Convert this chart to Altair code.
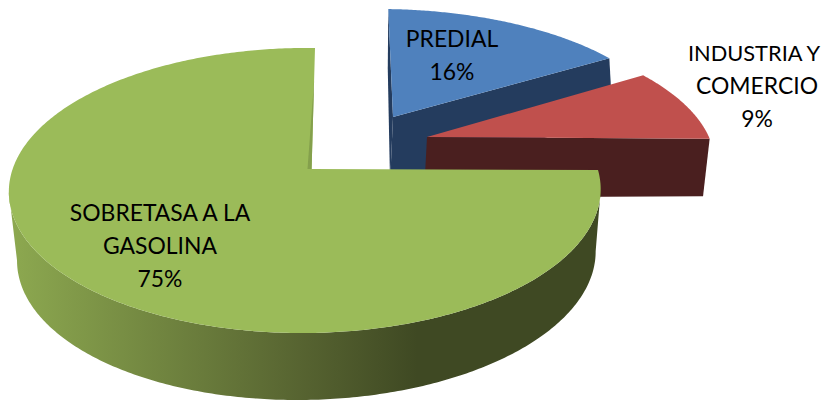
import numpy as np
import altair as alt

labels = [["PREDIAL", "16%"], ["INDUSTRIA Y", "COMERCIO", "9%"], ["SOBRETASA A LA", "GASOLINA", "75%"]]
shares = [16, 9, 75]
top_colors = ["#4F81BD", "#C0504D", "#9BBB59"]
face_colors = ["#243C5E", "#4A1F1F", "#3F4923"]


def homography(src, dst):
    A, b = [], []
    for (x, y), (u, v) in zip(src, dst):
        A.append([x, y, 1, 0, 0, 0, -u * x, -u * y]); b.append(u)
        A.append([0, 0, 0, x, y, 1, -v * x, -v * y]); b.append(v)
    return np.append(np.linalg.solve(np.array(A, float), np.array(b, float)), 1).reshape(3, 3)


disc = [(0, 1), (1, 0), (-1, 0), (0, -1)]
H_top = homography(disc, [(315, 48), (598, 170), (13, 168), (307, 333)])
H_bot = homography(disc, [(313, 112), (594, 236), (20, 240), (303, 400)])


def proj(H, pts):
    p = np.c_[np.asarray(pts, float), np.ones(len(pts))] @ H.T
    return p[:, :2] / p[:, 2:]


def unproj(H, x, y):
    p = np.linalg.solve(H, [x, y, 1])
    return p[:2] / p[2]


def rim(offset, a0, a1, n=120, sx=1.0, skew=0.0):
    a = np.radians(np.linspace(a0, a1, n))
    return np.c_[np.sin(a) * sx + skew * np.cos(a), np.cos(a)] + offset


def feature(points, fill):
    ring = [[float(x) - 8, float(y) - 8] for x, y in points]
    ring.append(ring[0])
    return alt.Chart(alt.Data(values=[{"type": "Feature", "properties": {},
                                       "geometry": {"type": "Polygon", "coordinates": [ring]}}])
                     ).mark_geoshape(fill=fill, strokeWidth=0)


def side_face(apex, point, fill, depth=1.0, taper=1.0):
    at, pt = proj(H_top, apex), proj(H_top, point)
    ab, pb = proj(H_bot, apex), proj(H_bot, point)
    low_a = at + (ab - at) * depth
    low_p = pt + (pb - pt) * depth
    low_p[:, 0] = low_a[:, 0] + (low_p[:, 0] - low_a[:, 0]) * taper
    return feature(np.vstack([at, pt, low_p, low_a]), fill)


explode_blue = unproj(H_top, 393, 117)
explode_red = unproj(H_top, 427, 137)
zero = np.zeros(2)

blue_end = shares[0] * 3.6
red_end = blue_end + shares[1] * 3.6
green_end = red_end + shares[2] * 3.6

layers = []

# blue slice
b = rim(explode_blue, 0, blue_end, sx=1.04, skew=0.009)
apex_b = explode_blue[None, :]
layers.append(side_face(apex_b, b[:1], face_colors[0]))
layers.append(side_face(apex_b, b[-1:], face_colors[0]))
layers.append(feature(np.vstack([proj(H_top, apex_b), proj(H_top, b)]), top_colors[0]))

# red slice
r = rim(explode_red, blue_end, red_end, sx=1.04)
apex_r = explode_red[None, :]
layers.append(side_face(apex_r, r[-1:], face_colors[1], depth=0.91, taper=0.975))
layers.append(feature(np.vstack([proj(H_top, apex_r), proj(H_top, r)]), top_colors[1]))

# green slice
g = rim(zero, red_end, green_end, 400)
g_top = proj(H_top, g)
g_bot = proj(H_bot, g)
it0, it1 = g_top[:, 0].argmax(), g_top[:, 0].argmin()
ib0, ib1 = g_bot[:, 0].argmax(), g_bot[:, 0].argmin()
wall = np.vstack([g_top[it0:it1 + 1], g_bot[ib0:ib1 + 1][::-1]])
gradient = alt.Gradient(gradient="linear", x1=0, x2=1, y1=0, y2=0, stops=[
    alt.GradientStop(color="#8DA950", offset=0),
    alt.GradientStop(color="#576431", offset=0.49),
    alt.GradientStop(color="#3F4923", offset=0.69),
    alt.GradientStop(color="#3F4923", offset=1),
])
layers.append(feature(wall, "#3F4923").mark_geoshape(fill=gradient, strokeWidth=0))
layers.append(feature(np.vstack([proj(H_top, zero[None, :]), g_top]), top_colors[2]))
# thin shaded sliver along the vertical cut of the green slice
layers.append(feature(proj(H_top, [(0, 0.7), (0, 0), (-0.014, 0)]), "#84A04C"))

# text
positions = [(452, 47, 33), (757, 61, 33), (160, 221, 33)]
for lines, (cx, y0, dy) in zip(labels, positions):
    for i, line in enumerate(lines):
        wide = line == "INDUSTRIA Y"
        layers.append(
            alt.Chart(alt.Data(values=[{"t": line}])).mark_text(
                font="Lato", fontSize=21.8 if wide else 22.9, color="#000000",
                align="center", baseline="alphabetic"
            ).encode(x=alt.value((754 if wide else cx) - 8), y=alt.value(y0 + i * dy - 8), text="t:N")
        )

chart = alt.layer(*layers).properties(
    width=813, height=392,
    projection=alt.Projection(type="identity", scale=1, translate=[0, 0]),
    autosize=alt.AutoSizeParams(type="none"), padding=0,
).configure_view(stroke=None)

chart.save("out.html", embed_options={"renderer": "svg", "actions": False})
